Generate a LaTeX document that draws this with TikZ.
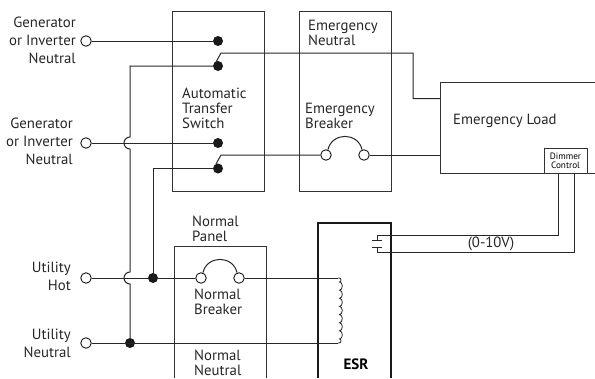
\documentclass[tikz,border=0pt]{standalone}
\usepackage{fontspec}
\setmainfont{PT Sans}
\usetikzlibrary{positioning}
\usetikzlibrary{calc}

\tikzset{
  wire/.style={line width=1pt, draw=black!85},
  panel/.style={line width=1pt, draw=black!80},
  opendot/.style={circle, draw=black!90, fill=white, line width=0.9pt, minimum size=10.5pt, inner sep=0pt},
  soliddot/.style={circle, fill=black!90, minimum size=10pt, inner sep=0pt},
  lbl/.style={font=\fontsize{14.8}{15}\selectfont, text=black!85, inner sep=0pt},
  lblr/.style={lbl, font=\fontsize{14.8}{18}\selectfont, align=right, anchor=east},
  lbll/.style={lbl, align=left, anchor=west}
}

\begin{document}
\begin{tikzpicture}[x=1pt,y=-1pt]
  \useasboundingbox (0,0) rectangle (595,378);

  % boxes
  \draw[panel] (172.5,191) rectangle (264,11.5);
  \draw[panel] (299,191) rectangle (391,11.5);
  \draw[panel] (174.5,378) -- (174.5,246) -- (266,246) -- (266,378);
  \draw[line width=1.3pt, draw=black!90] (318,378) -- (318,223) -- (391,223) -- (391,378);
  \draw[panel] (595,82) -- (440,82) -- (440,173) -- (595,173);
  \node[panel, draw, minimum width=43pt, minimum height=25pt, inner sep=0pt] (dimmer) at (565.5,161)
     {\parbox{43pt}{\centering\fontsize{9.2}{9.5}\selectfont Dimmer\\Control}};

  % terminals
  \foreach \name/\y in {genA/41, genB/143, utilH/278, utilN/343}
     \node[opendot] (\name) at (86,\y) {};
  \foreach \name/\x/\y in {atsA/218/41, atsB/218/66, atsC/218/143, atsD/218/168.5, hotJ/153/278, neuJ/130/343}
     \node[soliddot] (\name) at (\x,\y) {};
  \foreach \name/\x/\y in {ebrkL/326/155, ebrkR/364/155, nbrkL/201/278, nbrkR/239/278}
     \node[opendot] (\name) at (\x,\y) {};

  % points on the load side
  \coordinate (neuBlade) at (221,53);
  \coordinate (hotBlade) at (221,155);
  \coordinate (neuBend) at (413,53);
  \coordinate (neuLoad) at (440,98.5);
  \coordinate (hotLoad) at (440,155);
  \coordinate (coilT) at (338,278);
  \coordinate (coilB) at (338,343);
  \coordinate (capA) at (377,240);
  \coordinate (capB) at (377,247);

  % lines
  \draw[wire] (genA) -- (atsA);
  \draw[wire] (atsB.west) -- (130,66) -- (130,137) arc (270:90:6) -- (130,272) arc (270:90:6) -- (neuJ);
  \draw[wire] (genB) -- (atsC);
  \draw[wire] (atsD.west) -| (hotJ.center);
  \draw[wire] (utilH) -- (hotJ);
  \draw[wire] (hotJ) -- (nbrkL);
  \draw[wire] (nbrkR) -- (coilT);
  \draw[wire] (utilN) -- (coilB);
  \draw[wire] (ebrkR) -- (hotLoad);
  \draw[wire] (216,62) -- (neuBlade) -- (neuBend) |- (neuLoad);
  \draw[wire] (216,164) -- (hotBlade) -- (ebrkL);

  % breaker arcs
  \foreach \a/\b in {ebrkL/ebrkR, nbrkL/nbrkR}
     \draw[wire] (\a.70) .. controls ($(\a)+(6,-23)$) and ($(\b)+(-6,-23)$) .. (\b.110);

  % coil
  \draw[wire, line width=0.8pt] (coilT) -- ++(1,0) arc (-90:0:2 and 2) arc (0:90:1.5 and 2)
     \foreach \i in {1,...,7} { arc (-90:90:2.8 and 4.07) }
     arc (-90:0:1.5 and 2) arc (0:90:2 and 2) -- (coilB);

  % capacitor and control pair
  \draw[wire, line width=0.7pt] (372,240) -- (382,240);
  \draw[wire, line width=0.7pt] (372,247) -- (382,247);
  \draw[wire] (capA) -- (377,235.5) -| (558,173);
  \draw[wire] (capB) -- (377,252) -| (574,173);

  % labels
  \node[lblr] (lblGenA) at (76,40.5) {Generator\\or Inverter\\Neutral};
  \node[lblr] (lblGenB) at (73,141) {Generator\\or Inverter\\Neutral};
  \node[lblr] (lblHot) at (71,276) {Utility\\Hot};
  \node[lblr] (lblNeu) at (71,343) {Utility\\Neutral};
  \node[lbll] (lblAts) at (182,108) {Automatic\\Transfer\\Switch};
  \node[lbll] (lblPanel) at (192,228.5) {Normal\\Panel};
  \node[lbll] (lblNbrk) at (194,301.5) {Normal\\Breaker};
  \node[lbll] (lblNneu) at (194,362.5) {Normal\\Neutral};
  \node[lbll] (lblEneu) at (308,33) {Emergency\\Neutral};
  \node[lbll] (lblEbrk) at (305,115.5) {Emergency\\Breaker};
  \node[lbll] (lblLoad) at (453,121) {Emergency Load};
  \node[lbl] (lblVolt) at (491,244) {(0-10V)};
  \node[lbl, font=\fontsize{15}{15}\selectfont\bfseries, text=black] (lblEsr) at (356,364) {ESR};
\end{tikzpicture}
\end{document}
